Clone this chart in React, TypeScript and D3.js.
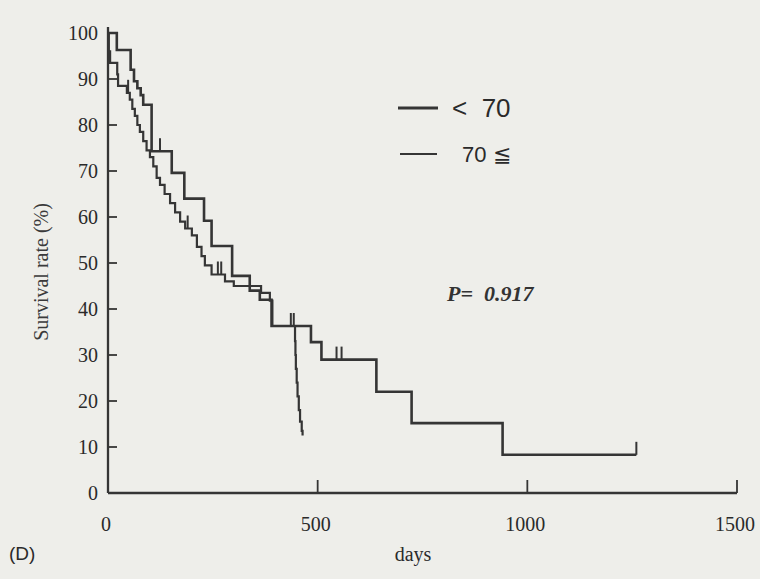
import React from 'react'
import * as d3 from 'd3'

// step data: day of event, survival (%) after the event
const daysUnder70 = [0, 21, 54, 62, 70, 78, 84, 104, 152, 182, 229, 247, 296, 338, 362, 390, 484, 509, 640, 724, 941, 1260]
const survUnder70 = [100, 96.3, 92, 89.5, 88, 86.5, 84.4, 74.3, 69.6, 64, 59.2, 53.7, 47.2, 44, 42, 36.3, 32.8, 29, 22, 15.2, 8.3, 8.3]
const censorUnder70 = [124, 436, 443, 545, 557, 1260]

const daysOver70 = [0, 2, 5, 22, 24, 45, 52, 58, 64, 70, 76, 84, 92, 100, 108, 116, 124, 135, 148, 160, 172, 184, 200, 212, 223, 231, 247, 279, 300, 365, 386, 392, 446, 447, 448, 450, 452, 455, 458, 462, 464]
const survOver70 = [100, 96, 93.5, 91, 88.5, 87, 85.5, 83.5, 82, 80, 78.5, 76.5, 74.5, 73, 71, 68.5, 67, 65, 63, 61, 59, 57.5, 56, 53.5, 51.5, 49.5, 47.5, 46, 45, 43.5, 41.8, 36.3, 33, 30, 27, 24, 21, 18, 15.5, 13.5, 12.5]
const censorOver70 = [48, 190, 262, 270]

const xTicks = [0, 500, 1000, 1500]
const yTicks = [0, 10, 20, 30, 40, 50, 60, 70, 80, 90, 100]

const W = 760
const H = 579
const ink = '#353535'
const serif = '"Liberation Serif", "DejaVu Serif", serif'
const sans = '"Liberation Sans", Arial, sans-serif'

const valueAt = (days: number[], surv: number[], t: number) => {
  let v = surv[0]
  days.forEach((d, i) => {
    if (d <= t) v = surv[i]
  })
  return v
}

const App = () => {
  const x = d3.scaleLinear().domain([0, 1500]).range([108, 737])
  const y = d3.scaleLinear().domain([0, 100]).range([493, 33])

  const line = d3
    .line<[number, number]>()
    .x((d) => x(d[0]))
    .y((d) => y(d[1]))
    .curve(d3.curveStepAfter)

  const ptsA = daysUnder70.map((d, i) => [d, survUnder70[i]] as [number, number])
  const ptsB = daysOver70.map((d, i) => [d, survOver70[i]] as [number, number])

  const tick = 13

  return (
    <svg width={W} height={H} style={{ position: 'absolute', left: 0, top: 0, background: '#eeeeea' }}>
      <rect x={0} y={0} width={W} height={H} fill="#eeeeea" />

      {/* axes */}
      <line x1={x(0)} x2={x(0)} y1={y(100) - 6} y2={y(0)} stroke={ink} strokeWidth={2.3} />
      <line x1={x(0)} x2={x(1500)} y1={y(0)} y2={y(0)} stroke={ink} strokeWidth={2.3} />
      {yTicks.slice(1).map((t) => (
        <line key={'yt' + t} x1={x(0)} x2={x(0) + 9} y1={y(t)} y2={y(t)} stroke={ink} strokeWidth={1.8} />
      ))}
      {yTicks.map((t) => (
        <text key={'yl' + t} x={x(0) - 10} y={y(t) + 7} textAnchor="end" fontFamily={serif} fontSize={20} fill="#2a2a2a">
          {t}
        </text>
      ))}
      {xTicks.slice(1).map((t) => (
        <line key={'xt' + t} x1={x(t)} x2={x(t)} y1={y(0)} y2={y(0) - 13} stroke={ink} strokeWidth={1.8} />
      ))}
      {xTicks.map((t) => (
        <text key={'xl' + t} x={x(t) - 2} y={531} textAnchor="middle" fontFamily={serif} fontSize={20} fill="#2a2a2a">
          {t}
        </text>
      ))}

      <text x={413} y={561} textAnchor="middle" fontFamily={serif} fontSize={20} fill="#2a2a2a">days</text>
      <text x={9} y={560} fontFamily={sans} fontSize={19} fill="#2a2a2a">(D)</text>
      <text
        transform="translate(48,272) rotate(-90)"
        textAnchor="middle"
        fontFamily={serif}
        fontSize={20}
        fill="#3a3a3a"
      >
        Survival rate (%)
      </text>

      {/* curves */}
      <path d={line(ptsA) || ''} fill="none" stroke={ink} strokeWidth={2.6} />
      <path d={line(ptsB) || ''} fill="none" stroke={ink} strokeWidth={2.2} />
      {censorUnder70.map((c) => {
        const v = valueAt(daysUnder70, survUnder70, c)
        return <line key={'ca' + c} x1={x(c)} x2={x(c)} y1={y(v)} y2={y(v) - tick} stroke={ink} strokeWidth={2} />
      })}
      {censorOver70.map((c) => {
        const v = valueAt(daysOver70, survOver70, c)
        return <line key={'cb' + c} x1={x(c)} x2={x(c)} y1={y(v)} y2={y(v) - tick} stroke={ink} strokeWidth={2} />
      })}

      {/* legend */}
      <line x1={398} x2={438} y1={108} y2={108} stroke={ink} strokeWidth={3.2} />
      <text x={452} y={117} fontFamily={sans} fontSize={26} fill="#2a2a2a">{'<\u00a0\u00a070'}</text>
      <line x1={400} x2={437} y1={154} y2={154} stroke={ink} strokeWidth={2.2} />
      <text x={462} y={162} fontFamily={sans} fontSize={22} fill="#2a2a2a">70 ≦</text>

      <text x={447} y={301} fontFamily={serif} fontSize={22} fontStyle="italic" fontWeight="bold" fill="#333">
        {'P=\u00a0\u00a00.917'}
      </text>
    </svg>
  )
}

export default App
